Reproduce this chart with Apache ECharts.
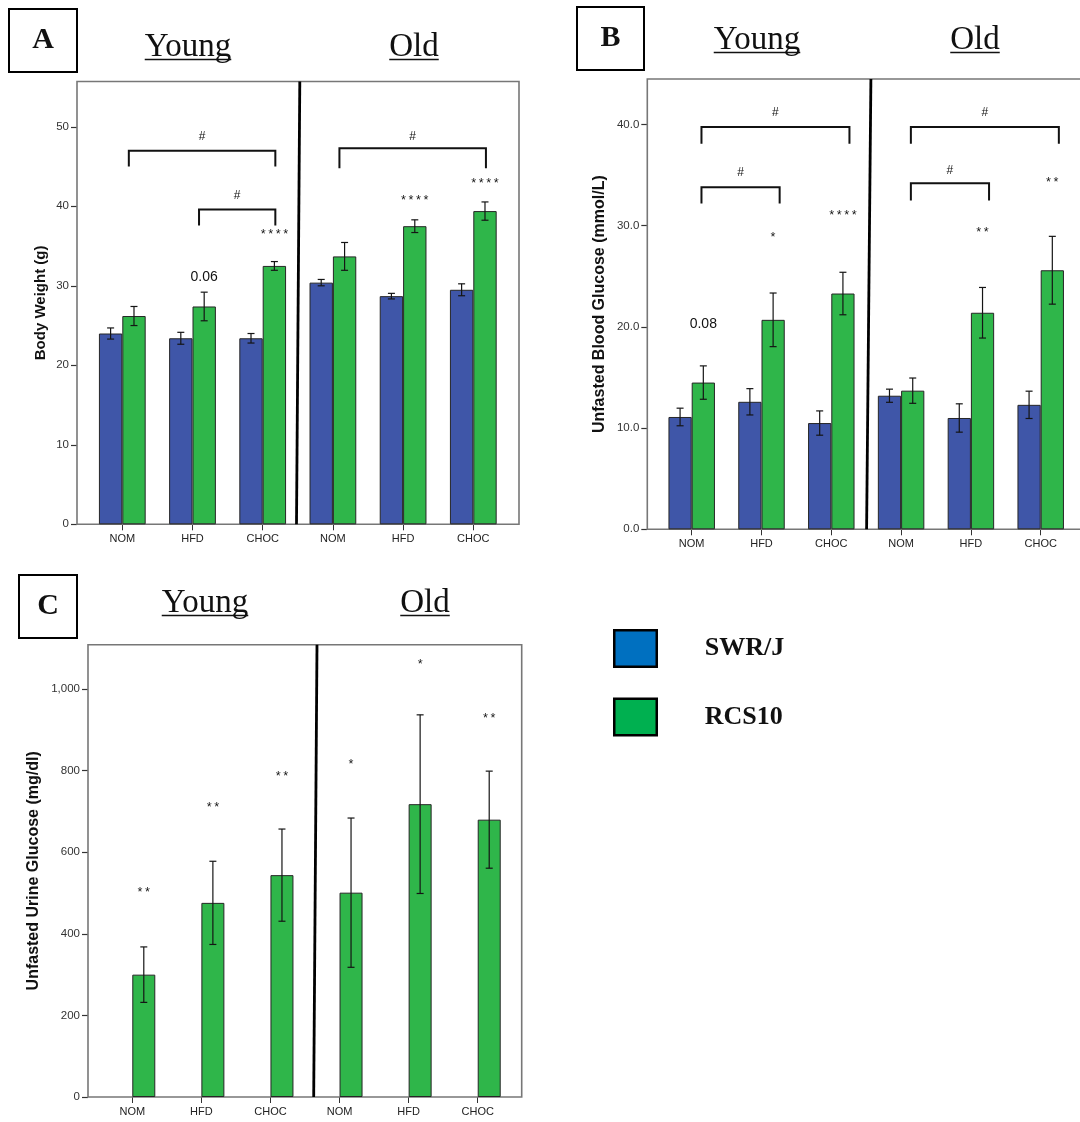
<!DOCTYPE html>
<html>
<head>
<meta charset="utf-8">
<script src="https://cdn.jsdelivr.net/npm/echarts@6/dist/echarts.min.js"></script>
<style>
  html, body { margin: 0; padding: 0; background: #ffffff; }
  #chart { width: 1080px; height: 1122px; }
</style>
</head>
<body>
<div id="chart"></div>
<script>
// Diet groups, young mice first then old mice
const categories = ['NOM', 'HFD', 'CHOC', 'NOM', 'HFD', 'CHOC'];
const strains = ['SWR/J', 'RCS10'];

// A: body weight (g), mean and SEM
const bwSWR = [24.0, 23.4, 23.4, 30.4, 28.7, 29.5];
const bwSWRErr = [0.7, 0.75, 0.6, 0.4, 0.35, 0.75];
const bwRCS = [26.2, 27.4, 32.5, 33.7, 37.5, 39.4];
const bwRCSErr = [1.2, 1.8, 0.55, 1.75, 0.8, 1.15];
const bwTicks = [0, 10, 20, 30, 40, 50];
// brackets: [from group, to group, bar height, leg end, mark height]
const bwBrackets = [[0, 2, 47.0, 45.0, 48.8], [1, 2, 39.6, 37.6, 41.3], [3, 5, 47.3, 44.8, 48.8]];
const bwNoteAt = [[2, 36.4], [4, 40.75], [5, 42.9], [1, 31.1]];
const bwNoteText = ['****', '****', '****', '0.06'];

// B: unfasted blood glucose (mmol/L)
const bgSWR = [11.1, 12.6, 10.5, 13.2, 11.0, 12.3];
const bgSWRErr = [0.87, 1.3, 1.2, 0.65, 1.4, 1.35];
const bgRCS = [14.5, 20.7, 23.3, 13.7, 21.4, 25.6];
const bgRCSErr = [1.65, 2.65, 2.1, 1.25, 2.5, 3.35];
const bgTicks = [0, 10, 20, 30, 40];
const bgBrackets = [[0, 2, 39.75, 38.1, 41.15], [0, 1, 33.8, 32.2, 35.25], [3, 5, 39.75, 38.1, 41.15], [3, 4, 34.2, 32.5, 35.4]];
const bgNoteAt = [[1, 28.85], [2, 31.0], [0, 20.26], [4, 29.35], [5, 34.3]];
const bgNoteText = ['*', '****', '0.08', '**', '**'];

// C: unfasted urine glucose (mg/dl); measured in RCS10 only
const ugSWR = [null, null, null, null, null, null];
const ugRCS = [300, 476, 544, 501, 718, 680];
const ugRCSErr = [68, 102, 113, 183, 219, 119];
const ugTicks = [0, 200, 400, 600, 800, 1000];
const ugBrackets = [];
const ugNoteAt = [[0, 501], [1, 708.6], [2, 786], [3, 814], [4, 1058.8], [5, 926.5]];
const ugNoteText = ['**', '**', '**', '*', '*', '**'];

const W = 1080, H = 1122;
const BLUE = '#3f56a8', GREEN = '#2fb64a';
const SANS = '"Liberation Sans", Arial, sans-serif';
const SERIF = '"Liberation Serif", "Times New Roman", serif';
const MONO = '"Liberation Mono", "DejaVu Sans Mono", monospace';
const CAT_GAP = 0.334;                 // share of a group band left empty
const SHIFT = (1 - CAT_GAP) / 4;       // bar centre offset from group centre, in bands
const CAP = 3.5;

// bars: plotting rectangle of the bars; frame: outer box (x from / to, in px)
const panels = [
  {
    bars: { left: 87.2, right: W - 508.4, top: 81.5, bottom: H - 524.3 },
    frame: [77, 519],
    yMax: 55.7, ticks: bwTicks, fmt: v => String(v),
    name: 'Body Weight (g)', nameSize: 15, nameGap: 29,
    swr: bwSWR, swrErr: bwSWRErr, rcs: bwRCS, rcsErr: bwRCSErr,
    brackets: bwBrackets, noteAt: bwNoteAt, noteText: bwNoteText,
    legL: 0.093, legR: 0.18, divTop: 2, divBottom: -1.3
  },
  {
    bars: { left: 656.8, right: W - 1075.6, top: 79, bottom: H - 529.3 },
    frame: [647.3, 1085],
    yMax: 44.5, ticks: bgTicks, fmt: v => v.toFixed(1),
    name: 'Unfasted Blood Glucose (mmol/L)', nameSize: 16, nameGap: 40,
    swr: bgSWR, swrErr: bgSWRErr, rcs: bgRCS, rcsErr: bgRCSErr,
    brackets: bgBrackets, noteAt: bgNoteAt, noteText: bgNoteText,
    legL: 0.14, legR: 0.26, divTop: 4.7, divBottom: 0.4
  },
  {
    bars: { left: 97.75, right: W - 512.25, top: 644.7, bottom: H - 1097 },
    frame: [88, 521.7],
    yMax: 1109, ticks: ugTicks, fmt: v => v.toLocaleString('en-US'),
    name: 'Unfasted Urine Glucose (mg/dl)', nameSize: 16, nameGap: 46,
    swr: ugSWR, swrErr: null, rcs: ugRCS, rcsErr: ugRCSErr,
    brackets: ugBrackets, noteAt: ugNoteAt, noteText: ugNoteText,
    legL: 0.14, legR: 0.26, divTop: 12, divBottom: 8.7
  }
];

const grid = [], xAxis = [], yAxis = [], series = [], frames = [];

function errorBars(ax, means, errs, side) {
  return {
    type: 'custom', xAxisIndex: ax, yAxisIndex: ax, z: 4, silent: true,
    encode: { x: 0, y: [1, 2] },
    data: means.map((m, i) => [i, m - errs[i], m + errs[i]]),
    renderItem: (params, api) => {
      const band = api.size([1, 0])[0];
      const lo = api.coord([api.value(0), api.value(1)]);
      const hi = api.coord([api.value(0), api.value(2)]);
      const x = lo[0] + side * band * SHIFT;
      const st = { stroke: '#151515', lineWidth: 1.2 };
      return {
        type: 'group', children: [
          { type: 'line', shape: { x1: x, y1: lo[1], x2: x, y2: hi[1] }, style: st },
          { type: 'line', shape: { x1: x - CAP, y1: hi[1], x2: x + CAP, y2: hi[1] }, style: st },
          { type: 'line', shape: { x1: x - CAP, y1: lo[1], x2: x + CAP, y2: lo[1] }, style: st }
        ]
      };
    }
  };
}

panels.forEach((p, ax) => {
  grid.push({ left: p.bars.left, right: p.bars.right, top: p.bars.top, bottom: p.bars.bottom });
  frames.push({
    type: 'rect', z: 1, silent: true,
    shape: { x: p.frame[0], y: p.bars.top, width: p.frame[1] - p.frame[0], height: H - p.bars.bottom - p.bars.top },
    style: { fill: null, stroke: '#777777', lineWidth: 1.6 }
  });
  xAxis.push({
    type: 'category', gridIndex: ax, data: categories,
    axisLine: { show: false },
    axisTick: { show: true, alignWithLabel: true, length: 6, lineStyle: { color: '#333', width: 1 } },
    axisLabel: { fontFamily: SANS, fontSize: 11, color: '#222', margin: 9 }
  });
  yAxis.push({
    type: 'value', gridIndex: ax, min: 0, max: p.yMax, interval: p.ticks[1] - p.ticks[0],
    offset: p.bars.left - p.frame[0],
    splitLine: { show: false },
    axisLine: { show: false },
    axisTick: { show: true, length: 6, customValues: p.ticks, lineStyle: { color: '#333', width: 1.2 } },
    axisLabel: { customValues: p.ticks, formatter: p.fmt, fontFamily: SANS, fontSize: 11.5, color: '#333', margin: 8 },
    name: p.name, nameLocation: 'middle', nameRotate: 90, nameGap: p.nameGap,
    nameTextStyle: { fontFamily: SANS, fontWeight: 'bold', fontSize: p.nameSize, color: '#111' }
  });

  const barBase = {
    type: 'bar', xAxisIndex: ax, yAxisIndex: ax, barGap: '0%',
    barCategoryGap: (CAT_GAP * 100) + '%', z: 2, silent: true
  };
  series.push(Object.assign({}, barBase, {
    name: strains[0], data: p.swr,
    itemStyle: { color: BLUE, borderColor: '#262626', borderWidth: 1 }
  }));
  series.push(Object.assign({}, barBase, {
    name: strains[1], data: p.rcs,
    itemStyle: { color: GREEN, borderColor: '#262626', borderWidth: 1 }
  }));
  if (p.swrErr) series.push(errorBars(ax, p.swr, p.swrErr, -1));
  series.push(errorBars(ax, p.rcs, p.rcsErr, 1));

  // comparison brackets with their "#" marks
  if (p.brackets.length) {
    series.push({
      type: 'custom', xAxisIndex: ax, yAxisIndex: ax, z: 5, silent: true,
      encode: { x: [0, 1], y: [2, 3, 4] },
      data: p.brackets,
      renderItem: (params, api) => {
        const band = api.size([1, 0])[0];
        const a = api.coord([api.value(0), api.value(2)]);
        const b = api.coord([api.value(1), api.value(2)]);
        const legY = api.coord([api.value(0), api.value(3)])[1];
        const labY = api.coord([api.value(0), api.value(4)])[1];
        const xl = a[0] + band * p.legL, xr = b[0] + band * p.legR;
        return {
          type: 'group', children: [
            { type: 'polyline', shape: { points: [[xl, legY], [xl, a[1]], [xr, a[1]], [xr, legY]] },
              style: { stroke: '#111', lineWidth: 2, fill: null } },
            { type: 'text', x: (xl + xr) / 2, y: labY,
              style: { text: '#', fontFamily: SANS, fontSize: 12, fill: '#111', align: 'center', verticalAlign: 'middle' } }
          ]
        };
      }
    });
  }

  // significance marks above the RCS10 bars
  series.push({
    type: 'custom', xAxisIndex: ax, yAxisIndex: ax, z: 5, silent: true,
    encode: { x: 0, y: 1 },
    data: p.noteAt,
    renderItem: (params, api) => {
      const band = api.size([1, 0])[0];
      const c = api.coord([api.value(0), api.value(1)]);
      const txt = p.noteText[params.dataIndex];
      const numeric = /^[0-9.]+$/.test(txt);
      return {
        type: 'text', x: c[0] + band * SHIFT, y: c[1],
        style: {
          text: txt, fontFamily: numeric ? SANS : MONO, fontSize: numeric ? 14 : 12.5,
          fill: '#111', align: 'center', verticalAlign: 'middle'
        }
      };
    }
  });

  // young | old divider
  series.push({
    type: 'custom', xAxisIndex: ax, yAxisIndex: ax, z: 6, silent: true,
    encode: { x: 0, y: 1 },
    data: [[2, 0]],
    renderItem: (params, api) => {
      const c2 = api.coord([2, 0]), c3 = api.coord([3, 0]);
      const mid = (c2[0] + c3[0]) / 2;
      const top = params.coordSys.y, bottom = params.coordSys.y + params.coordSys.height;
      return {
        type: 'line',
        shape: { x1: mid + p.divTop, y1: top, x2: mid + p.divBottom, y2: bottom },
        style: { stroke: '#000', lineWidth: 2.8 }
      };
    }
  });
});

// panel letters and Young / Old headings
const measure = (() => {
  const ctx = document.createElement('canvas').getContext('2d');
  return (text, font) => { ctx.font = font; return ctx.measureText(text).width; };
})();
const HEAD_SIZE = 33;
const headFont = HEAD_SIZE + 'px "Liberation Serif"';
function heading(text, cx, baseline) {
  const w = measure(text, headFont);
  return [
    { type: 'text', x: cx, y: baseline - 0.3 * HEAD_SIZE,
      style: { text, fontFamily: SERIF, fontSize: HEAD_SIZE, fill: '#111', align: 'center', verticalAlign: 'middle' } },
    { type: 'line', shape: { x1: cx - w / 2, y1: baseline + 2.5, x2: cx + w / 2, y2: baseline + 2.5 },
      style: { stroke: '#111', lineWidth: 1.6 } }
  ];
}
function letterBox(letter, x, y, w, h) {
  return [
    { type: 'rect', shape: { x, y, width: w, height: h }, style: { fill: null, stroke: '#000', lineWidth: 2 } },
    { type: 'text', x: x + w / 2, y: y + h / 2,
      style: { text: letter, fontFamily: SERIF, fontWeight: 'bold', fontSize: 30, fill: '#111', align: 'center', verticalAlign: 'middle' } }
  ];
}
const graphic = [].concat(
  frames,
  letterBox('A', 9, 9, 68, 63), heading('Young', 188, 57), heading('Old', 414, 57),
  letterBox('B', 577, 7, 67, 63), heading('Young', 757, 50), heading('Old', 975, 50),
  letterBox('C', 19, 575, 58, 63), heading('Young', 205, 613), heading('Old', 425, 613)
);

const chart = echarts.init(document.getElementById('chart'), null, { renderer: 'canvas', width: W, height: H });
chart.setOption({
  animation: false,
  backgroundColor: '#ffffff',
  grid, xAxis, yAxis, series,
  graphic: { elements: graphic },
  legend: {
    orient: 'vertical', left: 613, top: 629, padding: 0,
    itemWidth: 42.5, itemHeight: 36.5, itemGap: 29.5,
    selectedMode: false, icon: 'rect',
    data: [
      { name: strains[0], itemStyle: { color: '#0070c0', borderColor: '#000', borderWidth: 2.5 } },
      { name: strains[1], itemStyle: { color: '#00b050', borderColor: '#000', borderWidth: 2.5 } }
    ],
    textStyle: { fontFamily: SERIF, fontWeight: 'bold', fontSize: 26, color: '#111', padding: [0, 0, 10, 43] }
  }
});
</script>
</body>
</html>
